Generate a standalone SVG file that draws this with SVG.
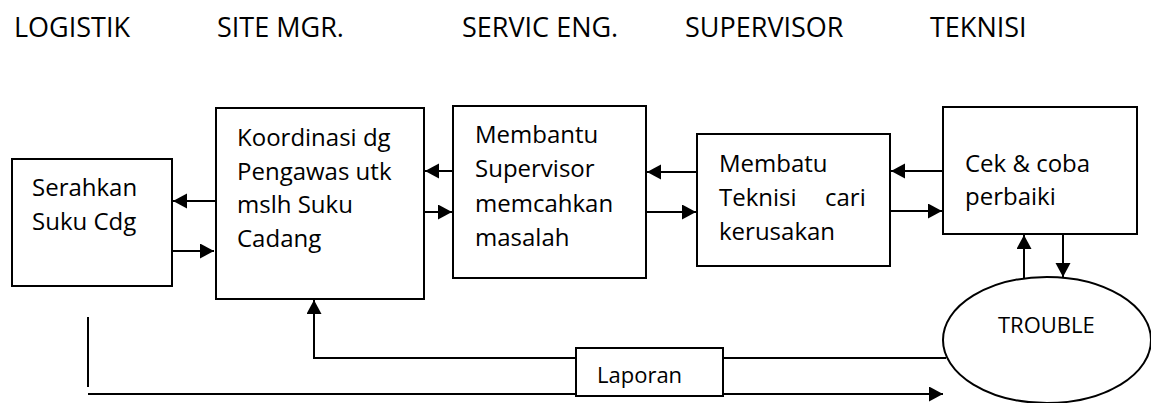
<svg xmlns="http://www.w3.org/2000/svg" width="1151" height="403" viewBox="0 0 1151 403">
<style>
text{font-family:"Open Sans","Liberation Sans",sans-serif;fill:#000}
.h{font-size:27px}
.b{font-size:24px}
.s{font-size:22px}
.box{fill:#fff;stroke:#000;stroke-width:2}
.ln{fill:none;stroke:#000;stroke-width:2}
</style>
<defs>
<marker id="ah" markerUnits="userSpaceOnUse" markerWidth="15" markerHeight="16" refX="14" refY="7.5" orient="auto">
<path d="M0,0 L14,7.5 L0,15 Z" fill="#000"/>
</marker>
</defs>
<g id="headers">
<text class="h" x="14" y="37">LOGISTIK</text>
<text class="h" x="217" y="37">SITE MGR.</text>
<text class="h" x="462" y="37">SERVIC ENG.</text>
<text class="h" x="685" y="37">SUPERVISOR</text>
<text class="h" x="930" y="37">TEKNISI</text>
</g>
<g id="connectors">
<line class="ln" x1="215" y1="201" x2="173" y2="201" marker-end="url(#ah)"/>
<line class="ln" x1="172" y1="251" x2="214" y2="251" marker-end="url(#ah)"/>
<line class="ln" x1="453" y1="171" x2="425" y2="171" marker-end="url(#ah)"/>
<line class="ln" x1="424" y1="212" x2="452" y2="212" marker-end="url(#ah)"/>
<line class="ln" x1="697" y1="172" x2="647" y2="172" marker-end="url(#ah)"/>
<line class="ln" x1="646" y1="212" x2="696" y2="212" marker-end="url(#ah)"/>
<line class="ln" x1="943" y1="171" x2="891" y2="171" marker-end="url(#ah)"/>
<line class="ln" x1="890" y1="211" x2="942" y2="211" marker-end="url(#ah)"/>
<line class="ln" x1="1024" y1="278" x2="1024" y2="235" marker-end="url(#ah)"/>
<line class="ln" x1="1063" y1="234" x2="1063" y2="277" marker-end="url(#ah)"/>
<polyline class="ln" points="946,358 314,358 314,300" marker-end="url(#ah)"/>
<line class="ln" x1="88" y1="317" x2="88" y2="387"/>
<line class="ln" x1="88" y1="394" x2="943" y2="394" marker-end="url(#ah)"/>
</g>
<g id="serahkan">
<rect class="box" x="12" y="159" width="160" height="127"/>
<text class="b" x="32" y="196">Serahkan</text>
<text class="b" x="32" y="230">Suku Cdg</text>
</g>
<g id="koordinasi">
<rect class="box" x="216" y="108" width="208" height="191"/>
<text class="b" x="237" y="146">Koordinasi dg</text>
<text class="b" x="237" y="180">Pengawas utk</text>
<text class="b" x="237" y="213">mslh Suku</text>
<text class="b" x="237" y="247">Cadang</text>
</g>
<g id="membantu">
<rect class="box" x="453" y="106" width="193" height="172"/>
<text class="b" x="475" y="143">Membantu</text>
<text class="b" x="475" y="177">Supervisor</text>
<text class="b" x="475" y="212">memcahkan</text>
<text class="b" x="475" y="246">masalah</text>
</g>
<g id="membatu">
<rect class="box" x="697" y="134" width="193" height="132"/>
<text class="b" x="719" y="172">Membatu</text>
<text class="b" x="719" y="206">Teknisi<tspan x="825">cari</tspan></text>
<text class="b" x="719" y="240">kerusakan</text>
</g>
<g id="cek">
<rect class="box" x="943" y="107" width="194" height="127"/>
<text class="b" x="965" y="172">Cek &amp; coba</text>
<text class="b" x="965" y="205">perbaiki</text>
</g>
<g id="trouble">
<ellipse class="box" cx="1047" cy="340" rx="104" ry="63"/>
<text class="s" x="998" y="333">TROUBLE</text>
</g>
<g id="laporan">
<rect class="box" x="576" y="348" width="147" height="48"/>
<text class="s" x="597" y="383">Laporan</text>
</g>
</svg>
